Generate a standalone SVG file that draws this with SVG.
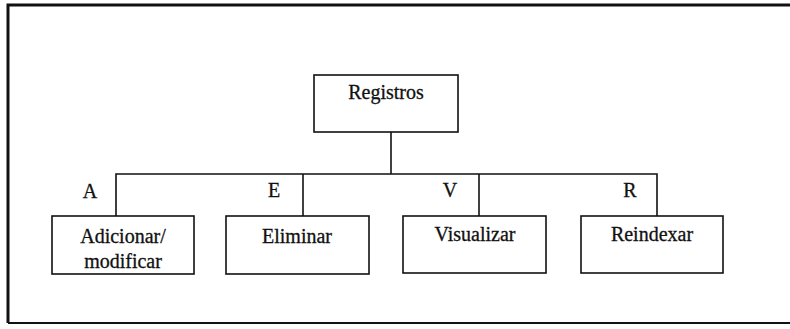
<svg xmlns="http://www.w3.org/2000/svg" width="790" height="329" viewBox="0 0 790 329">
<style>
.box{fill:#fff;stroke:#111;stroke-width:1.6}
.t{font-family:'Liberation Serif','DejaVu Serif',serif;font-size:20px;fill:#111;text-anchor:middle;stroke:#111;stroke-width:0.3}
.c{fill:none;stroke:#111;stroke-width:1.6}
</style>
<rect width="790" height="329" fill="#fff"/>
<g id="frame">
<path d="M8,323 L8,5 L792,5" fill="none" stroke="#111" stroke-width="3"/>
<path d="M8,323 L792,323" fill="none" stroke="#111" stroke-width="2"/>
</g>
<g id="connectors">
<path class="c" d="M391,132 L391,174"/>
<path class="c" d="M116,216 L116,174 L657,174 L657,216"/>
<path class="c" d="M303,174 L303,216"/>
<path class="c" d="M479,174 L479,216"/>
</g>
<g id="labels">
<text class="t" x="90" y="198">A</text>
<text class="t" x="274" y="197">E</text>
<text class="t" x="450" y="197">V</text>
<text class="t" x="630" y="197">R</text>
</g>
<g id="registros">
<rect class="box" x="314" y="75" width="144" height="57"/>
<text class="t" x="386" y="99">Registros</text>
</g>
<g id="adicionar">
<rect class="box" x="52" y="216" width="142" height="58"/>
<text class="t" x="123" y="243">Adicionar/</text>
<text class="t" x="123" y="268">modificar</text>
</g>
<g id="eliminar">
<rect class="box" x="226" y="216" width="143" height="58"/>
<text class="t" x="297" y="243">Eliminar</text>
</g>
<g id="visualizar">
<rect class="box" x="403" y="216" width="143" height="57"/>
<text class="t" x="475" y="241">Visualizar</text>
</g>
<g id="reindexar">
<rect class="box" x="581" y="216" width="142" height="57"/>
<text class="t" x="652" y="241">Reindexar</text>
</g>
</svg>
